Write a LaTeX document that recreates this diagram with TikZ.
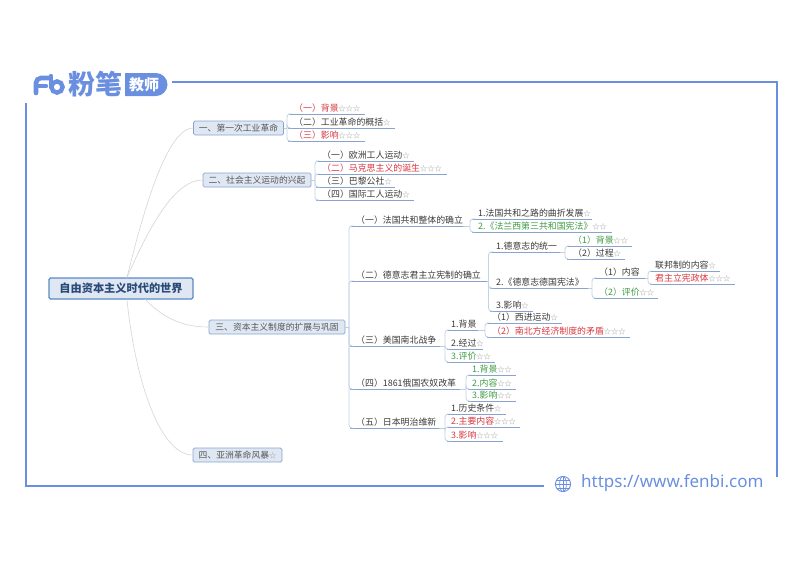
\documentclass[tikz,border=0pt]{standalone}
\usepackage{fontspec}
\setmainfont{Noto Sans CJK SC}
\newfontfamily\urlfont{Noto Sans}
\definecolor{brand}{HTML}{6A8FE0}
\definecolor{rulecol}{HTML}{87A3CE}
\definecolor{fancol}{HTML}{C2D2E8}
\definecolor{boxfill}{HTML}{DFE7F3}
\definecolor{rootline}{HTML}{5A8AC6}
\definecolor{rootink}{HTML}{2A4A78}
\definecolor{inkcol}{HTML}{3A3A3A}
\definecolor{hotcol}{HTML}{D8363F}
\definecolor{goodcol}{HTML}{3F9A45}
\definecolor{stargray}{HTML}{989898}
\newcommand{\pstar}{{\fontsize{7.2}{7}\selectfont\textcolor{stargray}{☆}}}
\tikzset{
  rootbox/.style={draw=rootline,line width=1.1pt,fill=boxfill,rounded corners=1.5pt,
    minimum width=144pt,minimum height=21pt,inner sep=0pt,text=rootink,font=\fontsize{11.2}{11}\selectfont\bfseries},
  partbox/.style={draw=rulecol,line width=.7pt,fill=boxfill,rounded corners=1.5pt,
    minimum height=14pt,inner sep=0pt,text=inkcol!85,font=\fontsize{8.8}{9}\selectfont},
  leaf/.style 2 args={anchor=south west,inner xsep=0pt,inner ysep=1pt,text width=#1pt,
    text height=8pt,text depth=1.5pt,text=inkcol,font=\fontsize{8.9}{9}\selectfont,
    execute at begin node={\hspace*{#2pt}}},
  hot/.style={text=hotcol},
  good/.style={text=goodcol},
  rulel/.style={draw=rulecol,line width=1pt},
  fan/.style={draw=fancol,line width=.8pt,rounded corners=3pt},
  tick/.style={draw=black!20,line width=.6pt},
  limb/.style={draw=black!17,line width=.6pt},
  frame/.style={draw=brand,line width=1.4pt},
}
\begin{document}
\begin{tikzpicture}[x=1pt,y=-1pt]
\useasboundingbox (0,0) rectangle (800,566);

% frame and logo
\coordinate (frameA) at (172,82);
\coordinate (frameB) at (777,82);
\coordinate (frameC) at (777,477);
\coordinate (frameD) at (544,486);
\coordinate (frameE) at (26,486);
\coordinate (frameF) at (26,103);
\draw[frame] (frameA) -- (frameB) -- (frameC);
\draw[frame] (frameD) -- (frameE) -- (frameF);

\draw[brand,line width=4.6pt,line cap=round,rounded corners=5pt] (36,93) -- (36,78) -- (49,78);
\draw[brand,line width=4.4pt,line cap=round] (36,86) -- (46,86);
\draw[brand,line width=4.4pt,line cap=round] (51,76) -- (51,87);
\draw[brand,line width=4.4pt] (57,87) circle (5.6);
\node[text=brand,inner sep=0pt,font=\fontsize{27}{27}\selectfont\bfseries] (logotxt) at (95,84.5) {粉笔};
\fill[brand] (125,73) -- (156,73) arc (-90:90:11.5) -- (125,96) -- cycle;
\node[text=white,inner sep=0pt,font=\fontsize{15}{15}\selectfont\bfseries] (logotab) at (144,84.5) {教师};

% web address
\draw[brand,line width=.9pt] (563,484) circle (7.6);
\draw[brand,line width=.7pt] (563,484) ellipse (3.4 and 7.6);
\draw[brand,line width=.7pt] (555.4,484) -- (570.6,484);
\draw[brand,line width=.7pt] (556.5,480) -- (569.5,480);
\draw[brand,line width=.7pt] (556.5,488) -- (569.5,488);
\draw[brand,line width=.7pt] (563,476.4) -- (563,491.6);
\node[anchor=west,inner sep=0pt,text=brand,font=\urlfont\fontsize{17}{17}\selectfont] (weburl) at (581,483) {https://www.fenbi.com};

% root and parts
\node[rootbox] (root) at (121,288.5) {自由资本主义时代的世界};
\node[partbox,minimum width=90pt] (partA) at (238.5,128) {一、第一次工业革命};
\node[partbox,minimum width=108pt] (partB) at (257,180) {二、社会主义运动的兴起};
\node[partbox,minimum width=136pt] (partC) at (277,327) {三、资本主义制度的扩展与巩固};
\node[partbox,minimum width=89pt] (partD) at (237.5,455) {四、亚洲革命风暴\pstar};

\draw[limb] (root.north) ++(6,0) coordinate (rootN) .. controls (140,225) and (165,128) .. (partA.west);
\draw[limb] (rootN) .. controls (150,225) and (175,180) .. (partB.west);
\draw[limb] (145,299) coordinate (rootS) .. controls (165,320) and (185,327) .. (partC.west);
\draw[limb] (root.south) ++(6,0) coordinate (rootT) .. controls (135,380) and (160,455) .. (partD.west);

% part one
\node[leaf={77}{6},hot] (a1) at (288,114) {（一）背景\pstar\pstar\pstar};
\node[leaf={107}{6}] (a2) at (288,128) {（二）工业革命的概括\pstar};
\node[leaf={77}{6},hot] (a3) at (288,141) {（三）影响\pstar\pstar\pstar};

% part two
\node[leaf={98}{6}] (b1) at (316,161) {（一）欧洲工人运动\pstar};
\node[leaf={131}{6},hot] (b2) at (316,174) {（二）马克思主义的诞生\pstar\pstar\pstar};
\node[leaf={79}{6}] (b3) at (316,187) {（三）巴黎公社\pstar};
\node[leaf={98}{6}] (b4) at (316,200) {（四）国际工人运动\pstar};

% part three
\node[leaf={113}{6}] (c1) at (350,226) {（一）法国共和整体的确立};
\node[leaf={137}{6}] (c2) at (350,281) {（二）德意志君主立宪制的确立};
\node[leaf={90}{6}] (c3) at (350,346) {（三）美国南北战争};
\node[leaf={110}{6}] (c4) at (350,389) {（四）1861俄国农奴改革};
\node[leaf={89}{6}] (c5) at (350,428) {（五）日本明治维新};

\node[leaf={120}{6}] (d1) at (472,219) {1.法国共和之路的曲折发展\pstar};
\node[leaf={140}{6},good] (d2) at (472,232) {2.《法兰西第三共和国宪法》\pstar\pstar};

\node[leaf={70}{6}] (e1) at (490,252) {1.德意志的统一};
\node[leaf={98}{6}] (e2) at (490,288) {2.《德意志德国宪法》};
\node[leaf={43}{6}] (e3) at (490,311) {3.影响\pstar};

\node[leaf={65}{6},good] (f1) at (567,246) {（1）背景\pstar\pstar};
\node[leaf={58}{6}] (f2) at (567,259) {（2）过程\pstar};

\node[leaf={51}{5}] (g1) at (594,278) {（1）内容};
\node[leaf={64}{5},good] (g2) at (594,298) {（2）评价\pstar\pstar};

\node[leaf={70}{5}] (h1) at (650,271) {联邦制的内容\pstar};
\node[leaf={85}{5},hot] (h2) at (650,284) {君主立宪政体\pstar\pstar\pstar};

\node[leaf={31}{4}] (j1) at (447,330) {1.背景};
\node[leaf={36}{4}] (j2) at (447,349) {2.经过\pstar};
\node[leaf={48}{4},good] (j3) at (447,362) {3.评价\pstar\pstar};

\node[leaf={75}{5}] (k1) at (487,323) {（1）西进运动\pstar};
\node[leaf={143}{5},hot] (k2) at (487,337) {（2）南北方经济制度的矛盾\pstar\pstar\pstar};

\node[leaf={48}{4},good] (m1) at (468,375) {1.背景\pstar\pstar};
\node[leaf={48}{4},good] (m2) at (468,389) {2.内容\pstar\pstar};
\node[leaf={48}{4},good] (m3) at (468,401) {3.影响\pstar\pstar};

\node[leaf={59}{4}] (n1) at (447,414) {1.历史条件\pstar};
\node[leaf={73}{4},hot] (n2) at (447,427) {2.主要内容\pstar\pstar\pstar};
\node[leaf={56}{4},hot] (n3) at (447,441) {3.影响\pstar\pstar\pstar};

% underlines
\foreach \n in {a1,a2,a3,b1,b2,b3,b4,c1,c2,c3,c4,c5,d1,d2,e1,e2,e3,f1,f2,g1,g2,h1,h2,j1,j2,j3,k1,k2,m1,m2,m3,n1,n2,n3}
  \draw[rulel] (\n.south west) -- (\n.south east);

% hubs and fans
\coordinate (hubA) at (287,128);
\coordinate (hubB) at (315,180);
\coordinate (hubC) at (349,327);
\coordinate (hubD) at (470,226);
\coordinate (hubE) at (488.5,281);
\coordinate (hubF) at (565,252);
\coordinate (hubG) at (592,288);
\coordinate (hubH) at (648,278);
\coordinate (hubJ) at (445,346);
\coordinate (hubK) at (485,330);
\coordinate (hubM) at (466,389);
\coordinate (hubN) at (445,428);

\draw[tick] (partA.east) -- (hubA);
\draw[tick] (partB.east) -- (hubB);
\draw[tick] (partC.east) -- (hubC);
\draw[tick] (c1.south east) -- (hubD);
\draw[tick] (c2.south east) -- (hubE);
\draw[tick] (e1.south east) -- (hubF);
\draw[tick] (e2.south east) -- (hubG);
\draw[tick] (g1.south east) -- (hubH);
\draw[tick] (c3.south east) -- (hubJ);
\draw[tick] (j1.south east) -- (hubK);
\draw[tick] (c4.south east) -- (hubM);
\draw[tick] (c5.south east) -- (hubN);

\foreach \c in {a1,a2,a3} \draw[fan] (hubA) |- (\c.south west);
\foreach \c in {b1,b2,b3,b4} \draw[fan] (hubB) |- (\c.south west);
\foreach \c in {c1,c2,c3,c4,c5} \draw[fan] (hubC) |- (\c.south west);
\foreach \c in {d1,d2} \draw[fan] (hubD) |- (\c.south west);
\foreach \c in {e1,e2,e3} \draw[fan] (hubE) |- (\c.south west);
\foreach \c in {f1,f2} \draw[fan] (hubF) |- (\c.south west);
\foreach \c in {g1,g2} \draw[fan] (hubG) |- (\c.south west);
\foreach \c in {h1,h2} \draw[fan] (hubH) |- (\c.south west);
\foreach \c in {j1,j2,j3} \draw[fan] (hubJ) |- (\c.south west);
\foreach \c in {k1,k2} \draw[fan] (hubK) |- (\c.south west);
\foreach \c in {m1,m2,m3} \draw[fan] (hubM) |- (\c.south west);
\foreach \c in {n1,n2,n3} \draw[fan] (hubN) |- (\c.south west);
\end{tikzpicture}
\end{document}
